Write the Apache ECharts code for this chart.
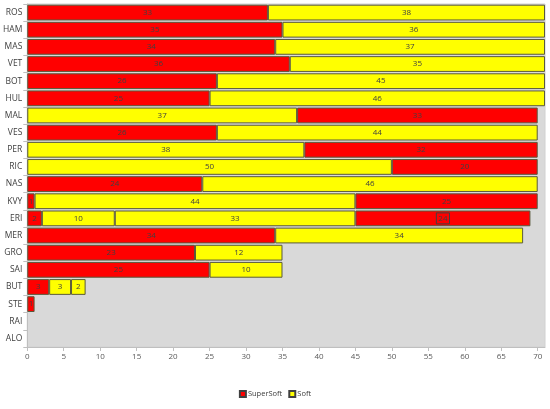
<!DOCTYPE html>
<html>
<head>
<meta charset="utf-8">
<script src="https://cdn.jsdelivr.net/npm/echarts@6/dist/echarts.min.js"></script>
<style>html,body{margin:0;padding:0;background:#fff}#c{width:550px;height:409px}</style>
</head>
<body>
<div id="c"></div>
<script>
const drivers = ['ROS','HAM','MAS','VET','BOT','HUL','MAL','VES','PER','RIC','NAS','KVY','ERI','MER','GRO','SAI','BUT','STE','RAI','ALO'];

const stint1Laps = [33,35,34,36,26,25,37,26,38,50,24,1,2,34,23,25,3,1,null,null];
const stint1Tyre = ['SS','SS','SS','SS','SS','SS','S','SS','S','S','SS','SS','SS','SS','SS','SS','SS','SS',null,null];

const stint2Laps = [38,36,37,35,45,46,33,44,32,20,46,44,10,34,12,10,3,null,null,null];
const stint2Tyre = ['S','S','S','S','S','S','SS','S','SS','SS','S','S','S','S','S','S','S',null,null,null];

const stint3Laps = [null,null,null,null,null,null,null,null,null,null,null,25,33,null,null,null,2,null,null,null];
const stint3Tyre = [null,null,null,null,null,null,null,null,null,null,null,'SS','S',null,null,null,'S',null,null,null];

const stint4Laps = [null,null,null,null,null,null,null,null,null,null,null,null,24,null,null,null,null,null,null,null];
const stint4Tyre = [null,null,null,null,null,null,null,null,null,null,null,null,'SS',null,null,null,null,null,null,null];

const compounds = ['SuperSoft','Soft'];
const xTicks = {min:0, max:71, interval:5};

const tyreName = {SS:'SuperSoft', S:'Soft'};
const tyreColor = {SuperSoft:'#ff0000', Soft:'#ffff00'};
const stints = [
  [stint1Laps, stint1Tyre],
  [stint2Laps, stint2Tyre],
  [stint3Laps, stint3Tyre],
  [stint4Laps, stint4Tyre]
];

const series = stints.map((st, i) => ({
  type: 'bar',
  name: 'Stint ' + (i + 1),
  stack: 'race',
  barCategoryGap: '8%',
  data: st[0].map((v, j) => {
    if (v == null) return '-';
    const item = {
      value: v,
      itemStyle: { color: tyreColor[tyreName[st[1][j]]], borderColor: '#5a5a3c', borderWidth: 1 }
    };
    if (i === 3) {
      item.label = { borderColor: '#404040', borderWidth: 1, padding: [2, 2, 1, 2] };
    }
    return item;
  }),
  label: {
    show: true,
    position: 'inside',
    fontSize: 8,
    color: '#404040',
    fontFamily: 'Open Sans'
  }
}));

compounds.forEach(c => {
  series.push({
    type: 'bar',
    name: c,
    stack: 'race',
    data: [],
    itemStyle: { color: tyreColor[c], borderColor: '#404040', borderWidth: 1 }
  });
});

const chart = echarts.init(document.getElementById('c'));
chart.setOption({
  animation: false,
  textStyle: { fontFamily: 'Open Sans' },
  grid: {
    left: 26, right: 5, top: 4, bottom: 62,
    show: true, backgroundColor: '#d9d9d9', borderColor: '#d0d0d0', borderWidth: 1
  },
  legend: {
    data: compounds,
    icon: 'rect',
    bottom: 6,
    left: 'center',
    itemWidth: 6,
    itemHeight: 6,
    itemGap: 6,
    textStyle: { fontSize: 7.5, color: '#404040', padding: [0, 0, 0, -3] }
  },
  xAxis: {
    type: 'value',
    min: xTicks.min,
    max: xTicks.max,
    interval: xTicks.interval,
    axisLabel: { fontSize: 8, color: '#595959', showMaxLabel: false, margin: 6 },
    axisLine: { show: true, lineStyle: { color: '#bfbfbf' } },
    axisTick: { show: true, length: 4, lineStyle: { color: '#bfbfbf' } },
    splitLine: { show: false }
  },
  yAxis: {
    type: 'category',
    inverse: true,
    data: drivers,
    axisLabel: { fontSize: 8.5, color: '#404040', margin: 5 },
    axisLine: { show: true, lineStyle: { color: '#bfbfbf' } },
    axisTick: { show: true, length: 4, lineStyle: { color: '#bfbfbf' } }
  },
  series: series
});
</script>
</body>
</html>
